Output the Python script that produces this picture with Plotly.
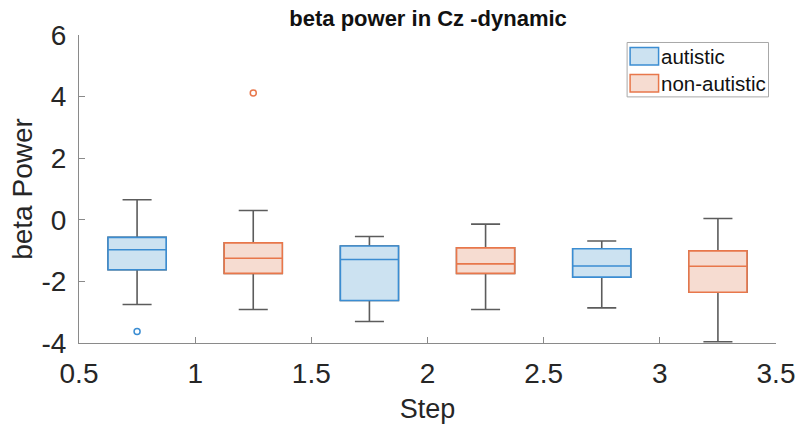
import plotly.graph_objects as go

# ---- data ----
autistic_pos = [0.75, 1.75, 2.75]
autistic_q1 = [-1.62, -2.62, -1.86]
autistic_median = [-0.97, -1.29, -1.50]
autistic_q3 = [-0.57, -0.85, -0.94]
autistic_lower = [-2.75, -3.30, -2.86]
autistic_upper = [0.65, -0.54, -0.69]
autistic_out_x = [0.75]
autistic_out_y = [-3.63]

non_pos = [1.25, 2.25, 3.25]
non_q1 = [-1.74, -1.74, -2.35]
non_median = [-1.25, -1.43, -1.51]
non_q3 = [-0.75, -0.91, -1.01]
non_lower = [-2.91, -2.91, -3.96]
non_upper = [0.30, -0.14, 0.04]
non_out_x = [1.25]
non_out_y = [4.12]

group_names = ["autistic", "non-autistic"]
x_ticks = [0.5, 1, 1.5, 2, 2.5, 3, 3.5]
y_ticks = [-4, -2, 0, 2, 4, 6]

# ---- style ----
FONT = "Liberation Sans, Arial, sans-serif"
W, H = 798, 427
ML, MR, MT, MB = 79, 21.5, 35, 83.5
WHISKER = "#5c5c5c"
AXIS = "#8a8a8a"
BLUE_LINE, BLUE_FILL = "#3b8dd2", "#cce2f1"
ORANGE_LINE, ORANGE_FILL = "#e8774b", "#f6dcd1"
BOX_W = 0.25

fig = go.Figure()


def add_group(pos, q1, med, q3, lo, hi, line_c, fill_c, name):
    # whiskers + caps in gray
    fig.add_trace(go.Box(
        x=pos, q1=q1, median=med, q3=q3, lowerfence=lo, upperfence=hi,
        width=BOX_W, whiskerwidth=0.5, boxpoints=False,
        line=dict(color=WHISKER, width=1.6), fillcolor="rgba(0,0,0,0)",
        showlegend=False, hoverinfo="skip", name=name))
    # coloured box with median on top
    fig.add_trace(go.Box(
        x=pos, q1=q1, median=med, q3=q3, lowerfence=q1, upperfence=q3,
        width=BOX_W, whiskerwidth=0, boxpoints=False,
        line=dict(color=line_c, width=1.6), fillcolor=fill_c,
        showlegend=False, name=name))


add_group(autistic_pos, autistic_q1, autistic_median, autistic_q3,
          autistic_lower, autistic_upper, BLUE_LINE, BLUE_FILL, group_names[0])
add_group(non_pos, non_q1, non_median, non_q3,
          non_lower, non_upper, ORANGE_LINE, ORANGE_FILL, group_names[1])

fig.add_trace(go.Scatter(
    x=autistic_out_x, y=autistic_out_y, mode="markers", showlegend=False,
    marker=dict(symbol="circle-open", size=6, color=BLUE_LINE, line=dict(width=1.5))))
fig.add_trace(go.Scatter(
    x=non_out_x, y=non_out_y, mode="markers", showlegend=False,
    marker=dict(symbol="circle-open", size=6, color=ORANGE_LINE, line=dict(width=1.5))))


# ---- legend drawn as shapes + text (wide MATLAB-style patches) ----
def px(xp):
    return (xp - ML) / (W - ML - MR)


def py(yp):
    return (H - MB - yp) / (H - MT - MB)


shapes = [dict(type="rect", xref="paper", yref="paper",
               x0=px(627.5), x1=px(769), y0=py(97), y1=py(42.5),
               line=dict(color="#a8a8a8", width=1), fillcolor="white")]
annotations = []
for (top, bot), lc, fc, label in zip([(47.5, 65), (74.5, 92)],
                                     [BLUE_LINE, ORANGE_LINE],
                                     [BLUE_FILL, ORANGE_FILL], group_names):
    shapes.append(dict(type="rect", xref="paper", yref="paper",
                       x0=px(630.5), x1=px(659), y0=py(bot), y1=py(top),
                       line=dict(color=lc, width=1.5), fillcolor=fc))
    annotations.append(dict(xref="paper", yref="paper", x=px(659), y=py((top + bot) / 2),
                            text=label, showarrow=False, xanchor="left", yanchor="middle",
                            font=dict(family=FONT, size=20.5, color="#111111")))

fig.update_layout(
    width=W, height=H,
    margin=dict(l=ML, r=MR, t=MT, b=MB, autoexpand=False),
    paper_bgcolor="white", plot_bgcolor="white",
    font=dict(family=FONT, color="#262626"),
    title=dict(text="<b>beta power in Cz -dynamic</b>", x=0.5364, xanchor="center",
               y=1 - 18 / H, yanchor="middle",
               font=dict(family=FONT, size=22, color="#111111")),
    boxmode="overlay",
    shapes=shapes, annotations=annotations,
    xaxis=dict(range=[0.5, 3.5], tickvals=x_ticks, ticktext=[f"{v:g}" for v in x_ticks],
               ticks="inside", ticklen=6, tickcolor=AXIS, showline=True, linecolor=AXIS,
               linewidth=1, showgrid=False, zeroline=False, mirror=False, automargin=False,
               tickfont=dict(size=28), ticklabelstandoff=5,
               title=dict(text="Step", font=dict(size=27), standoff=11)),
    yaxis=dict(range=[-4, 6], tickvals=y_ticks, ticktext=[f"{v:d}" for v in y_ticks],
               ticks="inside", ticklen=6, tickcolor=AXIS,
               showline=True, linecolor=AXIS, linewidth=1, showgrid=False, zeroline=False,
               automargin=False, tickfont=dict(size=28), ticklabelstandoff=6,
               title=dict(text="beta Power", font=dict(size=28), standoff=0)),
)

fig.write_html("out.html")
